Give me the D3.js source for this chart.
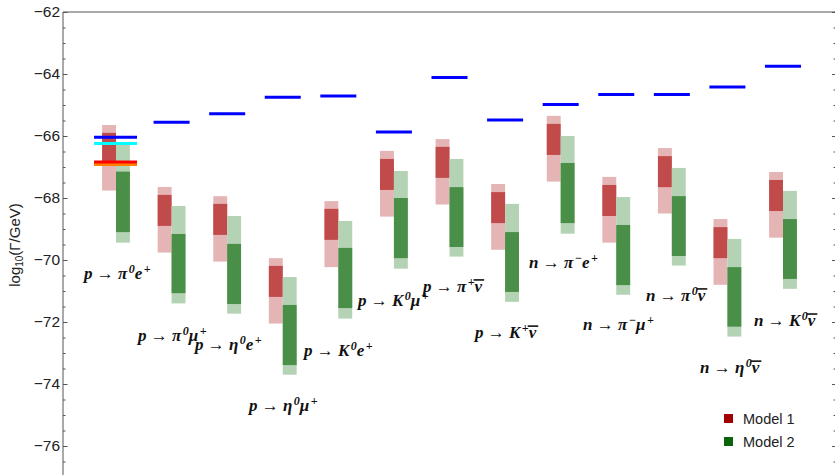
<!DOCTYPE html>
<html><head><meta charset="utf-8">
<script src="https://cdn.jsdelivr.net/npm/d3@7"></script>
<style>body{margin:0;background:#fff}svg{display:block}</style>
</head><body>
<svg id="c" width="835" height="475"></svg>
<script>
// ---- data ----
// "_bar" marks a symbol drawn with an over-bar (antineutrino)
const decays = [
  "p → π^{0}e^{+}", "p → π^{0}μ^{+}", "p → η^{0}e^{+}", "p → η^{0}μ^{+}", "p → K^{0}e^{+}",
  "p → K^{0}μ^{+}", "p → π^{+}ν_bar", "p → K^{+}ν_bar", "n → π^{−}e^{+}", "n → π^{−}μ^{+}",
  "n → π^{0}ν_bar", "n → η^{0}ν_bar", "n → K^{0}ν_bar"
];
// Model 1 (red): outer [top, bottom], inner [top, bottom]
const model1Outer = [[-65.645,-67.76],[-67.645,-69.76],[-67.94,-70.05],[-69.94,-72.05],[-68.10,-70.23],[-66.48,-68.60],[-66.10,-68.21],[-67.55,-69.67],[-65.35,-67.47],[-67.32,-69.44],[-66.39,-68.50],[-68.68,-70.80],[-67.16,-69.28]];
const model1Inner = [[-65.90,-66.92],[-67.90,-68.90],[-68.19,-69.19],[-70.19,-71.19],[-68.35,-69.35],[-66.74,-67.74],[-66.35,-67.35],[-67.81,-68.81],[-65.61,-66.61],[-67.58,-68.58],[-66.65,-67.65],[-68.94,-69.94],[-67.42,-68.42]];
// Model 2 (green)
const model2Outer = [[-66.26,-69.44],[-68.26,-71.40],[-68.58,-71.73],[-70.55,-73.70],[-68.74,-71.89],[-67.13,-70.28],[-66.74,-69.89],[-68.19,-71.35],[-66.00,-69.15],[-67.97,-71.12],[-67.03,-70.18],[-69.32,-72.47],[-67.77,-70.93]];
const model2Inner = [[-67.15,-69.10],[-69.16,-71.07],[-69.48,-71.42],[-71.45,-73.39],[-69.61,-71.55],[-68.00,-69.94],[-67.65,-69.58],[-69.10,-71.03],[-66.87,-68.81],[-68.87,-70.81],[-67.94,-69.87],[-70.23,-72.15],[-68.68,-70.61]];
// experimental bounds (blue)
const bounds = [-66.04,-65.56,-65.28,-64.75,-64.71,-65.87,-64.11,-65.48,-64.98,-64.66,-64.66,-64.42,-63.75];
// extra reference lines for p → π0 e+
const extraLines = [
  {value:-66.92, color:"#ff8000"},
  {value:-66.84, color:"#ff0000"},
  {value:-66.24, color:"#00ffff"}
];
// label anchors in data coordinates [x (decay index units), y (log10 Γ)]
const labelAnchor = [[0.424,-70.61],[1.396,-72.61],[2.421,-72.90],[3.393,-74.87],[4.382,-73.10],[5.354,-71.48],[6.523,-71.03],[7.459,-72.52],[8.430,-70.26],[9.402,-72.26],[10.535,-71.32],[11.507,-73.65],[12.478,-72.13]];
const yTicks = [-76,-74,-72,-70,-68,-66,-64,-62];
const legendItems = [{name:"Model 1", color:"#a00000"},{name:"Model 2", color:"#0a650a"}];

// ---- layout ----
const svg = d3.select("#c");
const pLeft = 63, pTop = 12, pRight = 836, pBottom = 477;
const y = d3.scaleLinear().domain([-77,-62]).range([pBottom, pTop]);
const x = d3.scaleLinear().domain([1,13]).range([116,783]);
const bw = 0.25;

const cols = {r1:"#e5b4b4", r2:"#c14a4a", g1:"#b4d2b4", g2:"#498f47"};

const gBars = svg.append("g");
function bars(data, off, color){
  gBars.selectAll(null).data(data).enter().append("rect")
    .attr("x",(d,i)=>x(i+1+off))
    .attr("width",(d,i)=>x(i+1+off+bw)-x(i+1+off))
    .attr("y",d=>y(d[0]))
    .attr("height",d=>y(d[1])-y(d[0]))
    .attr("fill",color);
}
bars(model1Outer,-bw,cols.r1);
bars(model1Inner,-bw,cols.r2);
bars(model2Outer,0,cols.g1);
bars(model2Inner,0,cols.g2);

// lines
const gLines = svg.append("g");
extraLines.forEach(l=>{
  gLines.append("line").attr("x1",x(0.605)).attr("x2",x(1.378))
    .attr("y1",y(l.value)).attr("y2",y(l.value))
    .attr("stroke",l.color).attr("stroke-width",3);
});
gLines.selectAll(null).data(bounds).enter().append("line")
  .attr("x1",(d,i)=> i===0 ? x(0.605) : x(i+1-0.324))
  .attr("x2",(d,i)=> i===0 ? x(1.378) : x(i+1+0.324))
  .attr("y1",d=>y(d)).attr("y2",d=>y(d))
  .attr("stroke","#0000ff").attr("stroke-width",3);

// frame
const frameCol = "#555";
svg.append("line").attr("x1",pLeft).attr("x2",pLeft).attr("y1",pTop).attr("y2",480).attr("stroke",frameCol);
svg.append("line").attr("x1",pLeft).attr("x2",pRight).attr("y1",pTop).attr("y2",pTop).attr("stroke",frameCol);

const minorVals = d3.range(-77,-61.9,0.5).filter(v=>!yTicks.includes(v));
const axL = svg.append("g").attr("transform",`translate(${pLeft},0)`)
  .call(d3.axisLeft(y).tickValues(yTicks).tickSize(-4.5).tickPadding(3).tickFormat(d3.format("d")));
axL.select(".domain").remove();
axL.selectAll("line").attr("stroke",frameCol);
axL.selectAll("text").attr("font-family","Liberation Sans, Arial, sans-serif").attr("font-size",15.5).attr("fill","#222");
const axLm = svg.append("g").attr("transform",`translate(${pLeft},0)`)
  .call(d3.axisLeft(y).tickValues(minorVals).tickSize(-2.5).tickFormat(""));
axLm.select(".domain").remove();
axLm.selectAll("line").attr("stroke",frameCol);

const axR = svg.append("g").attr("transform",`translate(${pRight},0)`)
  .call(d3.axisRight(y).tickValues(yTicks).tickSize(-4).tickFormat(""));
axR.select(".domain").remove();
axR.selectAll("line").attr("stroke",frameCol);
const axRm = svg.append("g").attr("transform",`translate(${pRight},0)`)
  .call(d3.axisRight(y).tickValues(minorVals).tickSize(-2.5).tickFormat(""));
axRm.select(".domain").remove();
axRm.selectAll("line").attr("stroke",frameCol);

// y label
const yl = svg.append("text").attr("transform","translate(20,245) rotate(-90)")
  .attr("text-anchor","middle").attr("font-family","Liberation Sans, Arial, sans-serif")
  .attr("font-size",15).attr("fill","#222");
yl.append("tspan").text("log");
yl.append("tspan").attr("font-size",10).attr("dy",3).text("10");
yl.append("tspan").attr("dy",-3).text("(Γ/GeV)");

// decay labels
const gLab = svg.append("g");
const fs = 17, supDy = 6;
decays.forEach((s,i)=>{
  const bx = x(labelAnchor[i][0]), by = y(labelAnchor[i][1]);
  const t = gLab.append("text")
    .attr("x",bx).attr("y",by)
    .attr("font-family","Liberation Serif, Times New Roman, serif")
    .attr("font-weight","bold").attr("font-style","italic")
    .attr("font-size",fs).attr("fill","#111");
  const parts = s.split(/\^\{([^}]*)\}/);
  let raised = false;
  const barSpans = [];
  parts.forEach((p,j)=>{
    if(p==="") return;
    if(j%2===1){
      t.append("tspan").attr("dy",raised?0:-supDy).attr("dx",1.5).attr("font-size",12).text(p);
      raised = true;
    } else {
      const segs = p.split("→");
      segs.forEach((seg,k)=>{
        if(k>0){
          t.append("tspan").attr("dy",raised?supDy:0).attr("font-style","normal").text("→");
          raised=false;
        }
        if(seg!==""){
          const isBar = seg.endsWith("_bar");
          const txt = isBar ? seg.replace("_bar","") : seg;
          const ts = t.append("tspan").attr("dy",raised?supDy:0).text(txt);
          if(isBar) barSpans.push(ts);
          raised=false;
        }
      });
    }
  });
  barSpans.forEach(ts=>{
    const node = ts.node();
    const ext = node.getExtentOfChar(0);
    gLab.append("line")
      .attr("x1",ext.x-1).attr("x2",ext.x+ext.width+2)
      .attr("y1",by-12).attr("y2",by-12)
      .attr("stroke","#111").attr("stroke-width",1.6);
  });
});

// legend
const lg = svg.append("g");
legendItems.forEach((d,i)=>{
  lg.append("rect").attr("x",724).attr("y",414+i*23).attr("width",9).attr("height",9).attr("fill",d.color);
  lg.append("text").attr("x",743).attr("y",423.5+i*23).attr("font-family","Liberation Sans, Arial, sans-serif")
    .attr("font-size",14.5).attr("fill","#222").text(d.name);
});
</script>
</body></html>
